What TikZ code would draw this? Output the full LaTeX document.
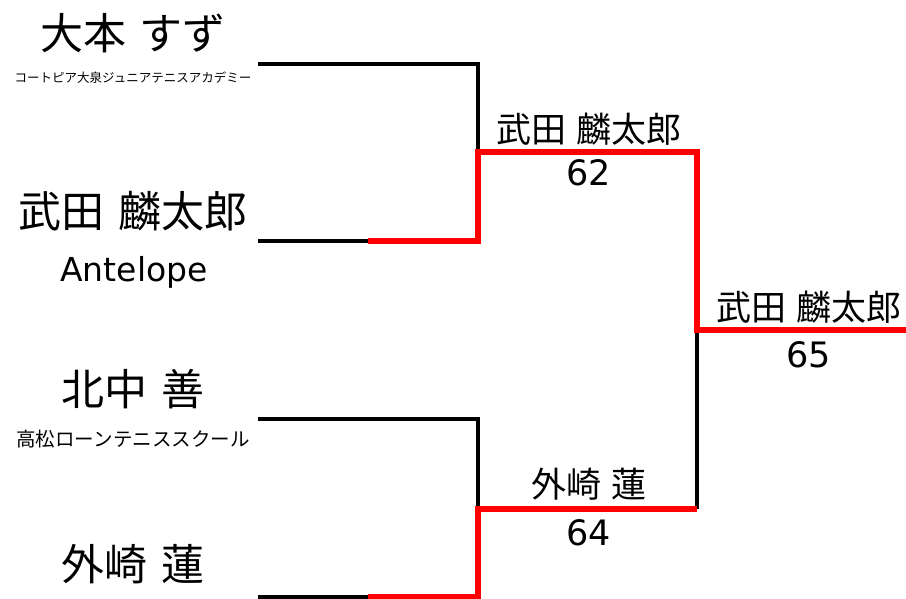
\documentclass[tikz,border=0pt]{standalone}
\usepackage{fontspec}
\setmainfont{DejaVu Sans}
\newfontfamily\jpfont{Noto Sans CJK JP}[WordSpace=1.4]
\usepackage{tikz}
\usetikzlibrary{positioning}
\definecolor{wincolor}{RGB}{255, 0, 0}

\begin{document}
\begin{tikzpicture}[
    x=1pt, y=-1pt,
    player/.style={anchor=base, inner sep=0pt, font=\jpfont\fontsize{43}{43}\selectfont},
    club/.style={anchor=base, inner sep=0pt, font=\jpfont\fontsize{#1}{#1}\selectfont},
    club/.default=20,
    winner/.style={anchor=base, inner sep=0pt, font=\jpfont\fontsize{35}{35}\selectfont},
    score/.style={anchor=base, inner sep=0pt, font=\fontsize{35}{35}\selectfont},
    bracket/.style={draw=black, line width=4pt, line join=miter},
    winline/.style={draw=wincolor, line width=6pt, line join=miter}
]
    \useasboundingbox (0,0) rectangle (906,598);

    % Players
    \node[player] (p1name) at (133,49) {大本 すず};
    \node[club=12.5] (p1club) at (133,82) {コートピア大泉ジュニアテニスアカデミー};
    \node[player] (p2name) at (133,227) {武田 麟太郎};
    \node[anchor=base, inner sep=0pt, font=\fontsize{33}{33}\selectfont] (p2club) at (134,281) {Antelope};
    \node[player] (p3name) at (133,405) {北中 善};
    \node[club=19.5] (p3club) at (133,446) {高松ローンテニススクール};
    \node[player] (p4name) at (133,580) {外崎 蓮};

    % Bracket points
    \coordinate (p1a) at (258,64);  \coordinate (p1b) at (478,64);
    \coordinate (p2a) at (258,241); \coordinate (p2m) at (368,241); \coordinate (p2b) at (478,241);
    \coordinate (p3a) at (258,419); \coordinate (p3b) at (478,419);
    \coordinate (p4a) at (258,597); \coordinate (p4m) at (368,597); \coordinate (p4b) at (478,597);
    \coordinate (m1) at (478,152);  \coordinate (m1r) at (697,152);
    \coordinate (m2) at (478,509);  \coordinate (m2r) at (697,509);
    \coordinate (fin) at (697,330); \coordinate (finr) at (906,330);

    % Lines
    \draw[bracket] (p1a) -- (p1b) -- (m1);
    \draw[bracket] (p2a) -- (p2m);
    \draw[bracket] (p3a) -- (p3b) -- (m2);
    \draw[bracket] (p4a) -- (p4m);
    \draw[bracket] (m2r) -- (fin);
    \draw[winline] (p2m) -- (p2b) -- (m1) -- (m1r) -- (fin) -- (finr);
    \draw[winline] (p4m) -- (p4b) -- (m2) -- (m2r);

    % Results
    \node[winner] (w1) at (589,142) {武田 麟太郎};
    \node[score] (s1) at (589,185) {62};
    \node[winner] (w2) at (589,497) {外崎 蓮};
    \node[score] (s2) at (589,545) {64};
    \node[winner] (wf) at (809,320) {武田 麟太郎};
    \node[score] (sf) at (809,367) {65};
\end{tikzpicture}
\end{document}
